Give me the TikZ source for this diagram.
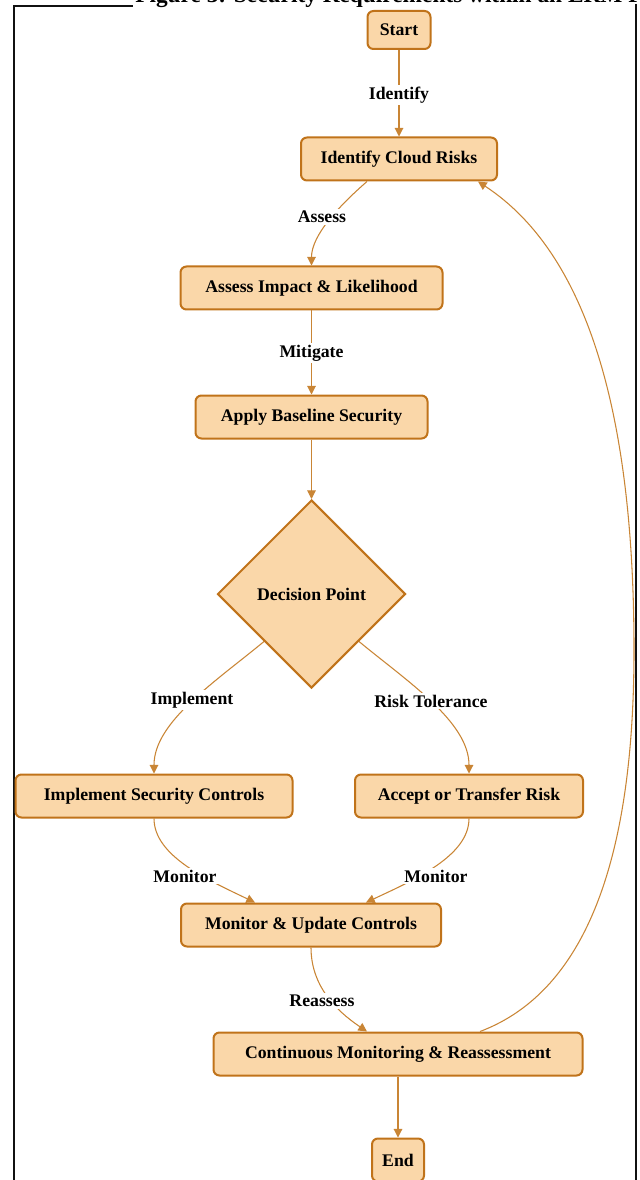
\documentclass[tikz,border=0pt]{standalone}
\usepackage{fontspec}
\setmainfont{Liberation Serif}
\usetikzlibrary{shapes.geometric,arrows.meta}
\definecolor{boxfill}{HTML}{FAD7A9}
\definecolor{boxdraw}{HTML}{C0731A}
\definecolor{edgecol}{HTML}{C98535}
\definecolor{framecol}{HTML}{111111}
\tikzset{
  stepbox/.style={draw=boxdraw, fill=boxfill, line width=1.5pt, rounded corners=4.5pt,
    inner sep=0pt, font=\fontsize{13.3}{15}\selectfont\bfseries, align=center},
  decbox/.style={draw=boxdraw, fill=boxfill, line width=1.5pt, diamond, aspect=1,
    inner sep=0pt, minimum width=188*0.75pt, minimum height=188*0.75pt,
    font=\fontsize{13.3}{15}\selectfont\bfseries},
  flow/.style={draw=edgecol, line width=0.8pt, -{Triangle[length=6.5pt,width=6.5pt]}},
  elabel/.style={fill=white, inner sep=1.5pt, font=\fontsize{13.3}{15}\selectfont\bfseries},
  frameline/.style={draw=framecol, line width=1.5pt}
}
\begin{document}
\begin{tikzpicture}[x=0.75pt,y=-0.75pt]
\useasboundingbox (0,0) rectangle (639,1180);
% frame
\coordinate (fa) at (14,1185);
\coordinate (fb) at (14,6);
\coordinate (fc) at (133,6);
\coordinate (fd) at (636,4);
\coordinate (fe) at (636,1185);
\draw[frameline] (fa) -- (fb) -- (fc);
\draw[frameline] (fd) -- (fe);
\node[anchor=base west, inner sep=0pt, font=\fontsize{17.5}{19}\selectfont\bfseries] (title) at (135,3) {Figure 3: Security Requirements within an ERM Framework};
% nodes
\node[stepbox, minimum width=63*0.75pt, minimum height=38*0.75pt] (start) at (399,30) {Start};
\node[stepbox, minimum width=196*0.75pt, minimum height=43*0.75pt] (ident) at (399,159) {Identify Cloud Risks};
\node[stepbox, minimum width=262*0.75pt, minimum height=43*0.75pt] (assess) at (311.5,288) {Assess Impact \& Likelihood};
\node[stepbox, minimum width=232*0.75pt, minimum height=43*0.75pt] (apply) at (311.5,417) {Apply Baseline Security};
\node[decbox] (dec) at (311.5,594) {Decision Point};
\node[stepbox, minimum width=277*0.75pt, minimum height=43*0.75pt] (impl) at (154,796) {Implement Security Controls};
\node[stepbox, minimum width=228*0.75pt, minimum height=43*0.75pt] (accept) at (469,796) {Accept or Transfer Risk};
\node[stepbox, minimum width=260*0.75pt, minimum height=43*0.75pt] (mon) at (311,925) {Monitor \& Update Controls};
\node[stepbox, minimum width=369*0.75pt, minimum height=43*0.75pt] (cont) at (398,1054) {Continuous Monitoring \& Reassessment};
\node[stepbox, minimum width=52*0.75pt, minimum height=43*0.75pt] (endn) at (398,1160) {End};
% edges
\draw[flow] (start.south) -- (ident.north);
\draw[flow] ([xshift=-32*0.75pt]ident.south) .. controls (340,205) and (311.5,235) .. (assess.north);
\draw[flow] (assess.south) -- (apply.north);
\draw[flow] (apply.south) -- (dec.north);
\draw[flow] (dec.225) .. controls (215,682) and (154,722) .. (impl.north);
\draw[flow] (dec.315) .. controls (408,682) and (469,722) .. (accept.north);
\draw[flow] (impl.south) .. controls (154,856) and (208,880) .. ([xshift=-56*0.75pt]mon.north);
\draw[flow] (accept.south) .. controls (469,856) and (414,880) .. ([xshift=55*0.75pt]mon.north);
\draw[flow] (mon.south) .. controls (311,985) and (335,1010) .. ([xshift=-31*0.75pt]cont.north);
\draw[flow] (cont.south) -- (endn.north);
\coordinate (loopmid) at (634,650);
\draw[flow] ([xshift=82*0.75pt]cont.north) .. controls (590,990) and (634,850) .. (loopmid) .. controls (634,420) and (590,255) .. ([xshift=79*0.75pt]ident.south);
% labels
\node[elabel] (l1) at (399,95) {Identify};
\node[elabel] (l2) at (322,217) {Assess};
\node[elabel] (l3) at (311.5,353) {Mitigate};
\node[elabel] (l4) at (192,700) {Implement};
\node[elabel] (l5) at (431,701) {Risk Tolerance};
\node[elabel] (l6) at (185,876) {Monitor};
\node[elabel] (l7) at (436,876) {Monitor};
\node[elabel] (l8) at (322,1001) {Reassess};
\end{tikzpicture}
\end{document}
